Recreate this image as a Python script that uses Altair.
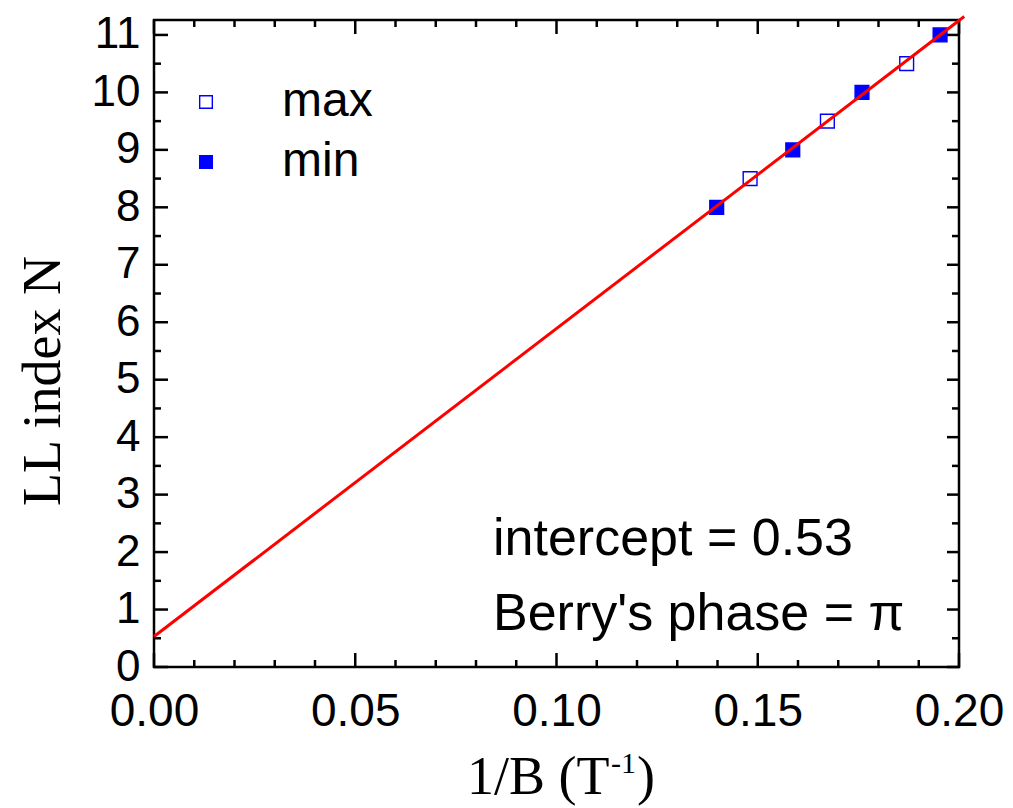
import altair as alt
import pandas as pd

# ---- data ----
min_x = [0.1398, 0.1587, 0.1759, 0.1953]
min_n = [8, 9, 10, 11]
max_x = [0.1481, 0.1673, 0.1870]
max_n = [8.5, 9.5, 10.5]
fit_x = [0.0, 0.2013]
fit_n = [0.53, 11.32]

x_major = [0.0, 0.05, 0.10, 0.15, 0.20]
x_minor = [0.01, 0.02, 0.03, 0.04, 0.06, 0.07, 0.08, 0.09,
           0.11, 0.12, 0.13, 0.14, 0.16, 0.17, 0.18, 0.19]
y_major = [0, 1, 2, 3, 4, 5, 6, 7, 8, 9, 10, 11]
y_minor = [0.5, 1.5, 2.5, 3.5, 4.5, 5.5, 6.5, 7.5, 8.5, 9.5, 10.5]

W, H = 805, 647
BLUE = "#0000ff"
RED = "#ff0000"
SANS = "Liberation Sans"
SERIF = "Liberation Serif"

pts = pd.DataFrame({
    "x": max_x + min_x,
    "y": max_n + min_n,
    "series": ["max"] * len(max_x) + ["min"] * len(min_x),
})
fit = pd.DataFrame({"x": fit_x, "y": fit_n})
xmaj = pd.DataFrame({"x": x_major})
xmin = pd.DataFrame({"x": x_minor})
ymaj = pd.DataFrame({"y": y_major})
ymin = pd.DataFrame({"y": y_minor})

xs = alt.Scale(domain=[0, 0.2], nice=False, zero=False)
ys = alt.Scale(domain=[0, 11.26], nice=False, zero=False)
x_axis = alt.Axis(values=x_major, format=".2f", ticks=False, tickSize=0, domain=False,
                  grid=False, title=None, labelFont=SANS, labelFontSize=46,
                  labelPadding=22, labelColor="black", labelFlush=False,
                  labelOverlap=False)
y_axis = alt.Axis(values=y_major, format="d", ticks=False, tickSize=0, domain=False,
                  grid=False, title=None, labelFont=SANS, labelFontSize=44,
                  labelPadding=14, labelColor="black", labelFlush=False,
                  labelOverlap=False)
X = alt.X("x:Q", scale=xs, axis=x_axis)
Y = alt.Y("y:Q", scale=ys, axis=y_axis)

points = alt.Chart(pts).mark_point(
    shape="square", filled=True, size=190, stroke=BLUE, strokeWidth=1.4, opacity=1
).encode(
    x=X, y=Y,
    fill=alt.Fill("series:N",
                  scale=alt.Scale(domain=["max", "min"], range=["transparent", BLUE]),
                  legend=alt.Legend(
                      title=None, orient="none", legendX=28, legendY=58,
                      symbolType="square", symbolSize=160,
                      symbolStrokeColor=BLUE, symbolStrokeWidth=1.4,
                      labelFont=SANS, labelFontSize=48, labelColor="black",
                      labelOffset=52, rowPadding=12, padding=0)),
)

line = alt.Chart(fit).mark_line(color=RED, strokeWidth=3).encode(x=X, y=Y)

TW = 2.5
def rule(df):
    return alt.Chart(df).mark_rule(color="black", strokeWidth=TW)

ticks = [
    rule(xmaj).encode(x=X, y=alt.value(H), y2=alt.value(H - 14)),
    rule(xmin).encode(x=X, y=alt.value(H), y2=alt.value(H - 7)),
    rule(xmaj).encode(x=X, y=alt.value(0), y2=alt.value(14)),
    rule(xmin).encode(x=X, y=alt.value(0), y2=alt.value(7)),
    rule(ymaj).encode(y=Y, x=alt.value(0), x2=alt.value(14)),
    rule(ymin).encode(y=Y, x=alt.value(0), x2=alt.value(7)),
    rule(ymaj).encode(y=Y, x=alt.value(W), x2=alt.value(W - 12)),
    rule(ymin).encode(y=Y, x=alt.value(W), x2=alt.value(W - 7)),
]

def label(text, x, y, font=SANS, size=52, angle=0, align="left"):
    return alt.Chart(pd.DataFrame({"t": [text]})).mark_text(
        font=font, fontSize=size, angle=angle, align=align, baseline="alphabetic",
        color="black"
    ).encode(text="t:N", x=alt.value(x), y=alt.value(y))

annots = [
    label("intercept = 0.53", 339, 535),
    label("Berry's phase = π", 339, 610),
    label("LL index N", -94, 361, font=SERIF, size=54, angle=270, align="center"),
    label("1/B (T", 313, 774, font=SERIF, size=54),
    label("-1", 457, 753, font=SERIF, size=30),
    label(")", 483, 774, font=SERIF, size=54),
]

chart = alt.layer(points, *ticks, line, *annots).properties(
    width=W, height=H,
    background="white",
    autosize=alt.AutoSizeParams(type="none"),
    padding={"left": 146, "top": 12, "right": 46, "bottom": 141},
).configure_view(stroke="black", strokeWidth=2.5)

chart.save("out.html", embed_options={"renderer": "svg", "actions": False})
